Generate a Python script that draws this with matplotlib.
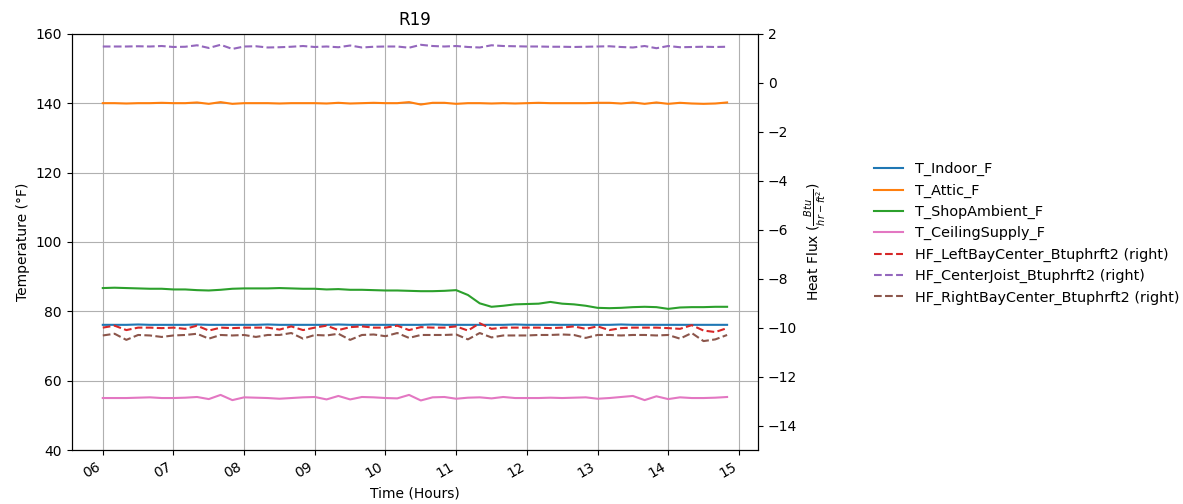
import numpy as np
import pandas as pd
import matplotlib
matplotlib.use('Agg')
import matplotlib.pyplot as plt
import matplotlib.dates as mdates

# 10-minute readings, 06:00 to 14:50
times = pd.date_range('2023-01-01 06:00', '2023-01-01 14:50', freq='10min')

t_indoor = [76.1, 76.1, 76.1, 76.2, 76.1, 76.1, 76.1, 76.1, 76.2, 76.1,
            76.1, 76.1, 76.1, 76.1, 76.2, 76.1, 76.1, 76.1, 76.1, 76.1,
            76.2, 76.1, 76.1, 76.1, 76.1, 76.1, 76.1, 76.1, 76.2, 76.1,
            76.1, 76.1, 76.1, 76.1, 76.1, 76.2, 76.1, 76.1, 76.1, 76.1,
            76.1, 76.1, 76.1, 76.1, 76.2, 76.1, 76.1, 76.1, 76.1, 76.1,
            76.1, 76.1, 76.1, 76.1]
t_attic = [140.0, 140.0, 139.9, 140.0, 140.0, 140.1, 140.0, 140.0, 140.2, 139.8,
           140.3, 139.8, 140.0, 140.0, 140.0, 139.9, 140.0, 140.0, 140.0, 139.9,
           140.1, 139.9, 140.0, 140.1, 140.0, 140.0, 140.3, 139.6, 140.1, 140.1,
           139.8, 140.0, 140.0, 139.9, 140.0, 139.9, 140.0, 140.1, 140.0, 140.0,
           140.0, 140.0, 140.1, 140.1, 139.9, 140.2, 139.8, 140.2, 139.8, 140.1,
           139.9, 139.8, 139.9, 140.2]
t_shop = [86.7, 86.8, 86.7, 86.6, 86.5, 86.5, 86.3, 86.3, 86.1, 86.0,
          86.2, 86.5, 86.6, 86.6, 86.6, 86.7, 86.6, 86.5, 86.5, 86.3,
          86.4, 86.2, 86.2, 86.1, 86.0, 86.0, 85.9, 85.8, 85.8, 85.9,
          86.1, 84.7, 82.3, 81.3, 81.6, 82.0, 82.1, 82.2, 82.7, 82.2,
          82.0, 81.6, 81.0, 80.9, 81.0, 81.2, 81.3, 81.2, 80.7, 81.1,
          81.2, 81.2, 81.3, 81.3]
t_ceiling = [55.0, 55.0, 55.0, 55.1, 55.2, 55.0, 55.0, 55.1, 55.3, 54.7,
             55.9, 54.4, 55.2, 55.1, 55.0, 54.8, 55.0, 55.2, 55.3, 54.6,
             55.6, 54.6, 55.3, 55.2, 55.0, 54.9, 55.9, 54.3, 55.2, 55.3,
             54.8, 55.1, 55.2, 54.9, 55.3, 55.0, 55.0, 55.0, 55.1, 55.0,
             55.1, 55.2, 54.8, 55.0, 55.3, 55.6, 54.4, 55.5, 54.7, 55.2,
             55.0, 55.0, 55.1, 55.3]

hf_left = [-10.00, -9.92, -10.10, -10.00, -10.00, -10.02, -10.00, -10.05, -9.92, -10.12,
           -10.00, -10.02, -10.00, -10.00, -10.00, -10.08, -9.95, -10.10, -10.00, -9.92,
           -10.10, -9.98, -9.95, -10.00, -10.00, -9.92, -10.10, -9.98, -10.00, -10.00,
           -9.95, -10.12, -9.82, -10.05, -10.00, -10.00, -10.00, -10.00, -10.02, -10.00,
           -9.95, -10.05, -9.95, -10.10, -10.02, -10.00, -10.00, -10.00, -10.02, -10.05,
           -9.90, -10.12, -10.18, -10.02]
hf_center = [1.48, 1.48, 1.48, 1.49, 1.48, 1.50, 1.46, 1.47, 1.53, 1.42,
             1.55, 1.38, 1.48, 1.49, 1.44, 1.45, 1.47, 1.50, 1.46, 1.48,
             1.45, 1.52, 1.44, 1.47, 1.48, 1.48, 1.43, 1.55, 1.50, 1.48,
             1.50, 1.46, 1.44, 1.53, 1.50, 1.49, 1.48, 1.48, 1.47, 1.47,
             1.46, 1.47, 1.48, 1.49, 1.46, 1.44, 1.50, 1.41, 1.50, 1.45,
             1.46, 1.47, 1.46, 1.47]
hf_right = [-10.32, -10.25, -10.50, -10.30, -10.32, -10.38, -10.32, -10.30, -10.25, -10.45,
            -10.30, -10.32, -10.30, -10.38, -10.30, -10.30, -10.22, -10.45, -10.30, -10.32,
            -10.25, -10.50, -10.30, -10.28, -10.35, -10.22, -10.42, -10.30, -10.30, -10.30,
            -10.28, -10.48, -10.22, -10.40, -10.32, -10.32, -10.32, -10.30, -10.30, -10.28,
            -10.30, -10.42, -10.30, -10.30, -10.32, -10.30, -10.30, -10.32, -10.30, -10.45,
            -10.22, -10.55, -10.48, -10.30]

temp_series = {'T_Indoor_F': t_indoor, 'T_Attic_F': t_attic,
               'T_ShopAmbient_F': t_shop, 'T_CeilingSupply_F': t_ceiling}
flux_series = {'HF_LeftBayCenter_Btuphrft2': hf_left,
               'HF_CenterJoist_Btuphrft2': hf_center,
               'HF_RightBayCenter_Btuphrft2': hf_right}

fig = plt.figure(figsize=(11.83, 5.04), dpi=100)
ax = fig.add_axes([0.0605, 0.107, 0.5805, 0.826])
ax2 = ax.twinx()

colors = plt.rcParams['axes.prop_cycle'].by_key()['color']
temp_colors = [colors[0], colors[1], colors[2], colors[6]]
flux_colors = [colors[3], colors[4], colors[5]]

lines = []
for (name, vals), c in zip(temp_series.items(), temp_colors):
    lines += ax.plot(times, vals, color=c, label=name)
for (name, vals), c in zip(flux_series.items(), flux_colors):
    lines += ax2.plot(times, vals, color=c, linestyle='--', label=name + ' (right)')

ax.set_ylim(40, 160)
ax2.set_ylim(-15, 2)
ax.grid(True)
ax.set_title('R19')
ax.set_ylabel('Temperature (°F)')
ax.set_xlabel('Time (Hours)')
ax2.set_ylabel(r'Heat Flux ($\frac{Btu}{hr-ft^2}$)')

ax.xaxis.set_major_locator(mdates.HourLocator())
ax.xaxis.set_major_formatter(mdates.DateFormatter('%H'))
for lbl in ax.get_xticklabels():
    lbl.set_rotation(30)
    lbl.set_ha('right')

fig.legend(lines, [l.get_label() for l in lines], loc='center left',
           bbox_to_anchor=(0.728, 0.537), frameon=False, fontsize=10.4)

fig.savefig('out.png')
